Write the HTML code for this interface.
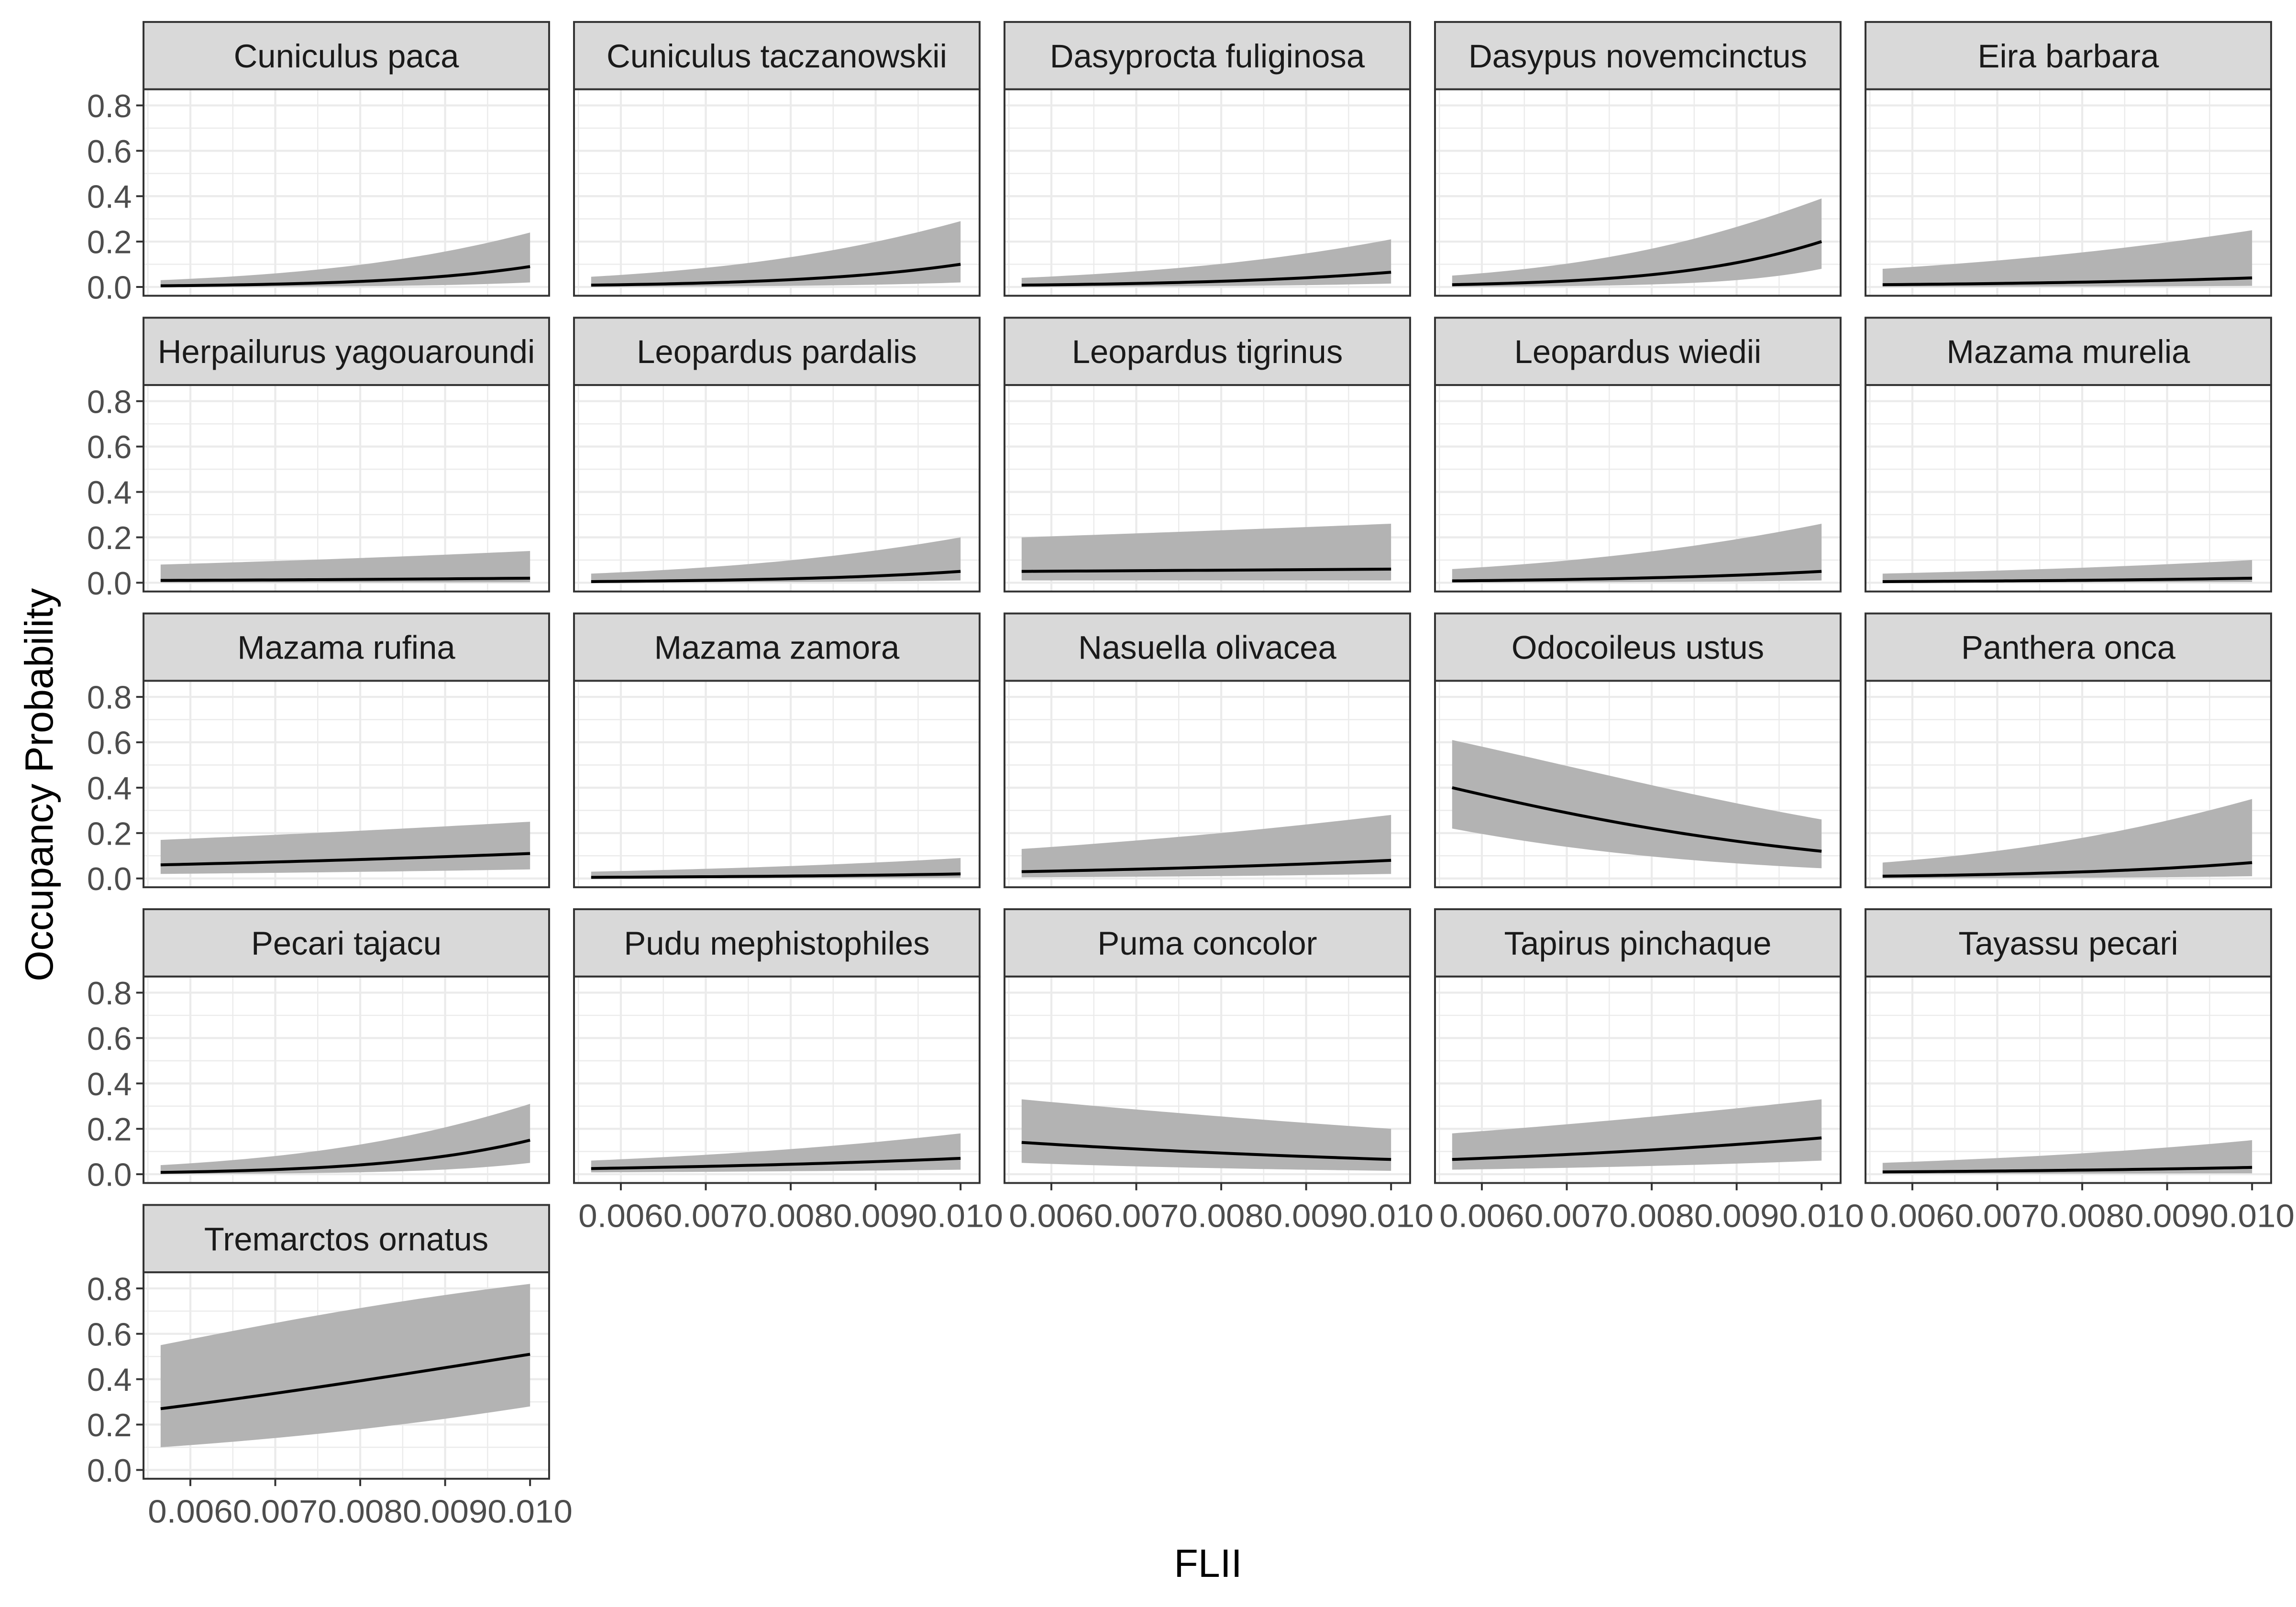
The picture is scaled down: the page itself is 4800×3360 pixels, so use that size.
<!DOCTYPE html>
<html><head><meta charset="utf-8"><style>
html,body{margin:0;padding:0;background:#fff;}
svg{display:block;}
text{font-family:"Liberation Sans",Arial,sans-serif;}
</style></head><body>
<svg id="s" xmlns="http://www.w3.org/2000/svg" width="4800" height="3360" viewBox="0 0 1568 1097.6"></svg>
<script>
const sp=[
["Cuniculus paca",[0.005,0.09],[0.03,0.24],[0.0005,0.02]],
["Cuniculus taczanowskii",[0.008,0.10],[0.045,0.29],[0.001,0.02]],
["Dasyprocta fuliginosa",[0.008,0.065],[0.04,0.21],[0.001,0.015]],
["Dasypus novemcinctus",[0.01,0.20],[0.05,0.39],[0.001,0.08]],
["Eira barbara",[0.01,0.04],[0.08,0.25],[0.0008,0.005]],
["Herpailurus yagouaroundi",[0.01,0.02],[0.08,0.14],[0.0008,0.002]],
["Leopardus pardalis",[0.005,0.05],[0.04,0.20],[0.0008,0.01]],
["Leopardus tigrinus",[0.05,0.06],[0.20,0.26],[0.01,0.01]],
["Leopardus wiedii",[0.008,0.05],[0.06,0.26],[0.0008,0.01]],
["Mazama murelia",[0.005,0.02],[0.04,0.10],[0.0008,0.003]],
["Mazama rufina",[0.06,0.11],[0.17,0.25],[0.02,0.04]],
["Mazama zamora",[0.005,0.02],[0.03,0.09],[0.0008,0.003]],
["Nasuella olivacea",[0.03,0.08],[0.13,0.28],[0.005,0.02]],
["Odocoileus ustus",[0.40,0.12],[0.61,0.26],[0.22,0.045]],
["Panthera onca",[0.01,0.07],[0.07,0.35],[0.0008,0.01]],
["Pecari tajacu",[0.008,0.15],[0.04,0.31],[0.001,0.05]],
["Pudu mephistophiles",[0.025,0.07],[0.06,0.18],[0.008,0.02]],
["Puma concolor",[0.14,0.065],[0.33,0.20],[0.05,0.015]],
["Tapirus pinchaque",[0.065,0.16],[0.18,0.33],[0.02,0.06]],
["Tayassu pecari",[0.01,0.03],[0.05,0.15],[0.002,0.004]],
["Tremarctos ornatus",[0.27,0.51],[0.55,0.82],[0.1,0.28]]
];
const lg=p=>Math.log(p/(1-p)), il=z=>1/(1+Math.exp(-z));
let o='';
const N=40,x0=0.00565,x1=0.0100;
sp.forEach((s,i)=>{
 const c=i%5,r=Math.floor(i/5);
 const px=98+294*c,pw=277,st=15+202*r,pt=61+202*r,ph=141;
 const X=v=>px+32+(v-0.006)*58000, Y=v=>pt+135-v*155;
 o+=`<rect x="${px}" y="${st}" width="${pw}" height="46" fill="#d9d9d9" stroke="#333" stroke-width="1.3"/>`;
 o+=`<text x="${px+pw/2}" y="${st+31}" font-size="22.5" fill="#1a1a1a" text-anchor="middle">${s[0]}</text>`;
 o+=`<rect x="${px}" y="${pt}" width="${pw}" height="${ph}" fill="#fff"/>`;
 for(let k=0;k<9;k++){const v=0.0055+k*0.0005;const xx=X(v);if(xx<px||xx>px+pw)continue;
  o+=`<line x1="${xx}" x2="${xx}" y1="${pt}" y2="${pt+ph}" stroke="#ebebeb" stroke-width="${k%2?1.4:0.8}"/>`;}
 for(let k=0;k<9;k++){const v=k*0.1;const yy=Y(v);
  o+=`<line x1="${px}" x2="${px+pw}" y1="${yy}" y2="${yy}" stroke="#ebebeb" stroke-width="${k%2?0.8:1.4}"/>`;}
 const f=(a,t)=>il(lg(a[0])+(lg(a[1])-lg(a[0]))*t);
 let up=[],lo=[],mn=[];
 for(let k=0;k<=N;k++){const t=k/N,xx=X(x0+(x1-x0)*t);
  up.push(xx.toFixed(2)+','+Y(f(s[2],t)).toFixed(2));
  lo.push(xx.toFixed(2)+','+Y(f(s[3],t)).toFixed(2));
  mn.push(xx.toFixed(2)+','+Y(f(s[1],t)).toFixed(2));}
 o+=`<polygon points="${up.join(' ')} ${lo.reverse().join(' ')}" fill="#b3b3b3"/>`;
 o+=`<polyline points="${mn.join(' ')}" fill="none" stroke="#000" stroke-width="2"/>`;
 o+=`<rect x="${px}" y="${pt}" width="${pw}" height="${ph}" fill="none" stroke="#333" stroke-width="1.3"/>`;
 if(c==0){for(let k=0;k<=4;k++){const yy=Y(k*0.2);
  o+=`<line x1="${px-5}" x2="${px}" y1="${yy}" y2="${yy}" stroke="#333" stroke-width="1.3"/>`;
  o+=`<text x="${px-8}" y="${yy+8}" font-size="22" fill="#4d4d4d" text-anchor="end">${(k*0.2).toFixed(1)}</text>`;}}
 if(r==4||(r==3&&c>0)){for(let k=0;k<=4;k++){const v=0.006+k*0.001,xx=X(v);
  o+=`<line x1="${xx}" x2="${xx}" y1="${pt+ph}" y2="${pt+ph+5}" stroke="#333" stroke-width="1.3"/>`;
  o+=`<text x="${xx-29}" y="${pt+ph+30}" font-size="22" fill="#4d4d4d" textLength="58" lengthAdjust="spacingAndGlyphs">${k==4?'0.010':v.toFixed(3)}</text>`;}}
});
o+=`<text x="825" y="1077" font-size="27" fill="#000" text-anchor="middle">FLII</text>`;
o+=`<text transform="translate(36,536) rotate(-90)" font-size="27" fill="#000" text-anchor="middle">Occupancy Probability</text>`;
document.getElementById('s').innerHTML=o;
</script>
</body></html>
